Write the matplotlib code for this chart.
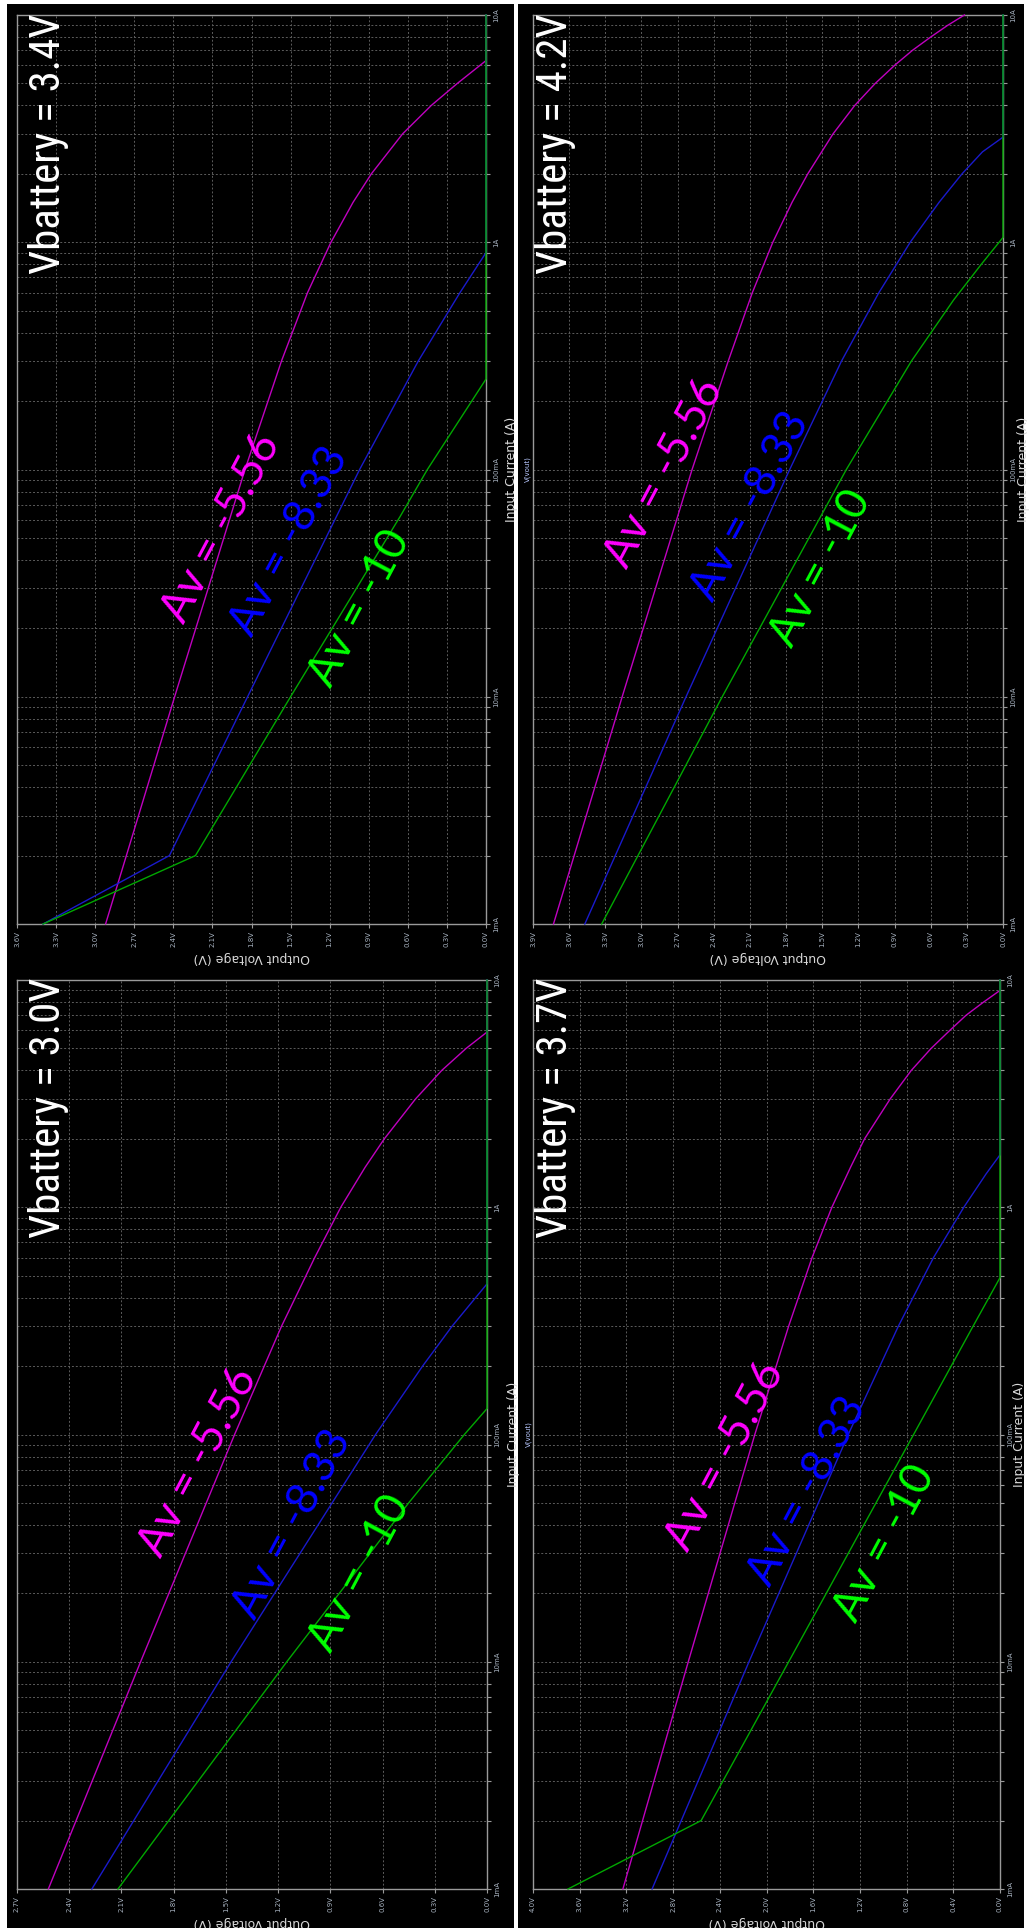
import matplotlib
matplotlib.use("Agg")
import matplotlib.pyplot as plt
from matplotlib.patches import Rectangle
from matplotlib.ticker import FixedLocator, NullFormatter

FIG_W, FIG_H = 1030, 1928

# ---- values ----
gain_labels = ["Av = -5.56", "Av = -8.33", "Av = -10"]
current_ticks = [0.001, 0.01, 0.1, 1.0, 10.0]
current_tick_labels = ["1mA", "10mA", "100mA", "1A", "10A"]

# Vbattery = 3.4 V
i_34_mag = [0.001, 0.01, 0.1, 0.3, 0.6, 1.0, 1.5, 2.0, 3.0, 4.0, 5.0, 6.3, 10.0]
v_34_mag = [2.92, 2.39, 1.85, 1.57, 1.37, 1.19, 1.02, 0.88, 0.64, 0.42, 0.22, 0.0, 0.0]
i_34_blu = [0.001, 0.002, 0.01, 0.1, 0.3, 0.6, 0.9, 10.0]
v_34_blu = [3.40, 2.43, 1.83, 0.97, 0.52, 0.20, 0.0, 0.0]
i_34_grn = [0.001, 0.002, 0.01, 0.062, 0.1, 0.25, 10.0]
v_34_grn = [3.40, 2.23, 1.50, 0.66, 0.45, 0.0, 0.0]

# Vbattery = 4.2 V
i_42_mag = [0.001, 0.01, 0.1, 0.3, 0.6, 1.0, 1.5, 2.0, 3.0, 4.0, 5.0, 6.0, 7.0, 8.0, 9.0, 10.0]
v_42_mag = [3.73, 3.16, 2.58, 2.28, 2.08, 1.91, 1.75, 1.62, 1.41, 1.23, 1.06, 0.90, 0.75, 0.60, 0.46, 0.32]
i_42_blu = [0.001, 0.01, 0.1, 0.3, 0.6, 1.0, 1.5, 2.0, 2.5, 2.9, 10.0]
v_42_blu = [3.47, 2.63, 1.77, 1.34, 1.03, 0.77, 0.53, 0.34, 0.17, 0.0, 0.0]
i_42_grn = [0.001, 0.01, 0.1, 0.3, 0.557, 0.8, 1.05, 10.0]
v_42_grn = [3.33, 2.33, 1.30, 0.76, 0.41, 0.18, 0.0, 0.0]

# Vbattery = 3.0 V
i_30_mag = [0.001, 0.01, 0.1, 0.3, 0.6, 1.0, 1.5, 2.0, 3.0, 4.0, 5.0, 5.9, 10.0]
v_30_mag = [2.52, 1.99, 1.45, 1.18, 0.99, 0.84, 0.70, 0.59, 0.41, 0.26, 0.12, 0.0, 0.0]
i_30_blu = [0.001, 0.01, 0.1, 0.2, 0.3, 0.46, 10.0]
v_30_blu = [2.27, 1.47, 0.64, 0.37, 0.20, 0.0, 0.0]
i_30_grn = [0.001, 0.01, 0.05, 0.1, 0.13, 10.0]
v_30_grn = [2.12, 1.15, 0.45, 0.13, 0.0, 0.0]

# Vbattery = 3.7 V
i_37_mag = [0.001, 0.01, 0.1, 0.3, 0.6, 1.0, 1.5, 2.0, 3.0, 4.0, 5.0, 6.0, 7.0, 8.0, 9.0, 10.0]
v_37_mag = [3.23, 2.67, 2.10, 1.81, 1.61, 1.44, 1.28, 1.16, 0.94, 0.76, 0.59, 0.43, 0.29, 0.14, 0.0, 0.0]
i_37_blu = [0.001, 0.01, 0.1, 0.3, 0.6, 1.0, 1.4, 1.7, 10.0]
v_37_blu = [2.98, 2.15, 1.30, 0.87, 0.57, 0.31, 0.12, 0.0, 0.0]
i_37_grn = [0.001, 0.002, 0.01, 0.1, 0.3, 0.49, 10.0]
v_37_grn = [3.70, 2.56, 1.81, 0.74, 0.23, 0.0, 0.0]

# ---- layout (pixel boxes of each plot area) ----
line_colors = ["#c000c0", "#1a1acc", "#00a800"]
label_colors = ["#ff00ff", "#0000ff", "#00ff00"]

panels = [
    dict(title="Vbattery = 3.4V", vmax=3.6, step=0.3, box=(17, 15, 486, 924),
         traces=[(i_34_mag, v_34_mag), (i_34_blu, v_34_blu), (i_34_grn, v_34_grn)],
         label_pos=[(0.435, 0.436), (0.580, 0.421), (0.731, 0.348)], right=False),
    dict(title="Vbattery = 4.2V", vmax=3.9, step=0.3, box=(533, 15, 1003, 924),
         traces=[(i_42_mag, v_42_mag), (i_42_blu, v_42_blu), (i_42_grn, v_42_grn)],
         label_pos=[(0.279, 0.496), (0.462, 0.460), (0.613, 0.392)], right=True),
    dict(title="Vbattery = 3.0V", vmax=2.7, step=0.3, box=(17, 980, 487, 1889),
         traces=[(i_30_mag, v_30_mag), (i_30_blu, v_30_blu), (i_30_grn, v_30_grn)],
         label_pos=[(0.387, 0.470), (0.585, 0.402), (0.730, 0.348)], right=False),
    dict(title="Vbattery = 3.7V", vmax=4.0, step=0.4, box=(533, 980, 1000, 1889),
         traces=[(i_37_mag, v_37_mag), (i_37_blu, v_37_blu), (i_37_grn, v_37_grn)],
         label_pos=[(0.411, 0.476), (0.587, 0.438), (0.754, 0.381)], right=True),
]

TITLE_FONT = ["Liberation Sans Narrow", "Roboto Condensed", "Liberation Sans", "DejaVu Sans"]
GAIN_FONT = ["Lato", "DejaVu Sans"]
AXIS_GRAY = "#9a9a9a"
TICK_TEXT = "#a9b4c2"

fig = plt.figure(figsize=(FIG_W / 100, FIG_H / 100), dpi=100, facecolor="white")

# black screenshot backgrounds, two columns
for x0, x1 in [(7, 514), (518, 1024)]:
    fig.patches.append(Rectangle((x0 / FIG_W, 0), (x1 - x0) / FIG_W, 1 - 4 / FIG_H,
                                 transform=fig.transFigure, facecolor="black",
                                 edgecolor="none", zorder=-5))

for p in panels:
    x0, y0, x1, y1 = p["box"]
    w, h = x1 - x0, y1 - y0
    ax = fig.add_axes([x0 / FIG_W, 1 - y1 / FIG_H, w / FIG_W, h / FIG_H])
    ax.set_zorder(2)
    ax.set_facecolor("black")
    ax.set_yscale("log")
    ax.set_ylim(1e-3, 10)
    ax.set_xlim(p["vmax"], 0)

    n = int(round(p["vmax"] / p["step"]))
    vticks = [round(p["vmax"] - k * p["step"], 1) for k in range(n + 1)]
    ax.set_xticks(vticks)
    ax.set_xticklabels([f"{t:.1f}V" for t in vticks], rotation=90, fontsize=5,
                       color=TICK_TEXT)

    ax.yaxis.tick_right()
    ax.yaxis.set_major_locator(FixedLocator(current_ticks))
    ax.set_yticklabels(current_tick_labels, rotation=90, fontsize=5,
                       color=TICK_TEXT, va="center")
    minors = [m * d for d in [0.001, 0.01, 0.1, 1.0] for m in range(2, 10)]
    ax.yaxis.set_minor_locator(FixedLocator(minors))
    ax.yaxis.set_minor_formatter(NullFormatter())

    ax.tick_params(axis="both", which="both", color=AXIS_GRAY, length=3,
                   width=0.8, pad=2)
    ax.grid(True, axis="y", which="both", color="#5c5c5c", lw=0.7,
            ls=(0, (2, 2)))
    ax.grid(True, axis="x", which="major", color="#5c5c5c", lw=0.7,
            ls=(0, (2, 2)))
    for s in ax.spines.values():
        s.set_color(AXIS_GRAY)
        s.set_linewidth(1.0)

    for (cur, volt), c in zip(p["traces"], line_colors):
        ax.plot(volt, cur, color=c, lw=1.0, zorder=3, clip_on=False)

    for (fx, fy), txt, c in zip(p["label_pos"], gain_labels, label_colors):
        ax.text(fx, fy, txt, transform=ax.transAxes, color=c, fontsize=32,
                family=GAIN_FONT, rotation=62, rotation_mode="anchor",
                ha="center", va="center")

    title_dx = 2 if p["right"] else 11
    ax.text(title_dx / w, 1 + 2 / h, p["title"], transform=ax.transAxes,
            color="white", fontsize=31, family=TITLE_FONT, rotation=90,
            ha="left", va="top")

    ax.text(0.5, -33 / h, "Output Voltage (V)", transform=ax.transAxes,
            color="#d8d8d8", fontsize=9, rotation=180, ha="center", va="center")
    # the right-hand column is cropped: its axis label sits at the very edge
    lab_dx = 20 if p["right"] else 26
    ax.text(1 + lab_dx / w, 0.5, "Input Current (A)", transform=ax.transAxes,
            color="#d8d8d8", fontsize=9, rotation=90, ha="center", va="center",
            clip_on=False)
    if not p["right"]:
        ax.text(1 + 42 / w, 0.5, "V(vout)", transform=ax.transAxes,
                color="#b8c8ff", fontsize=5, rotation=90, ha="center", va="center")

fig.savefig("out.png", dpi=100, facecolor="white")
